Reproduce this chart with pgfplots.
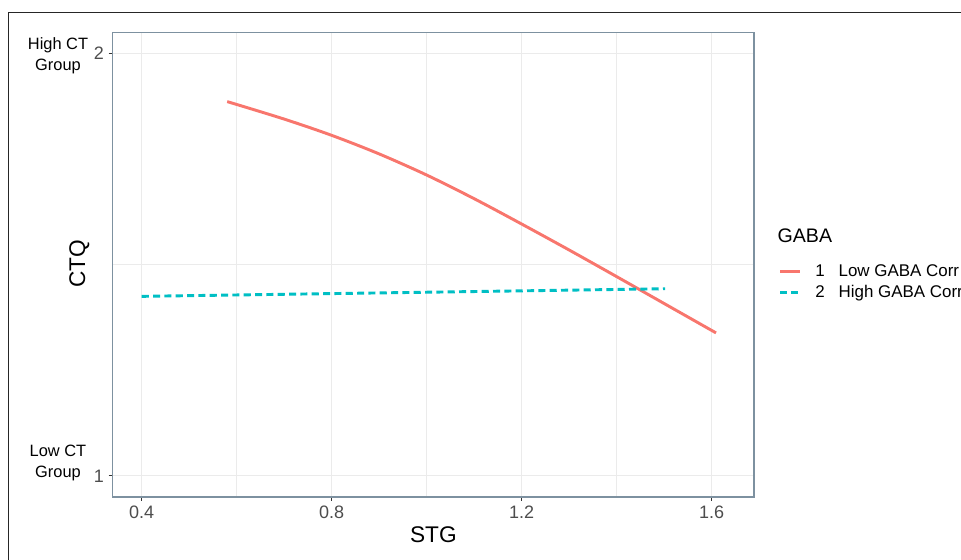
\documentclass[border=0pt]{standalone}
\usepackage{pgfplots}
\pgfplotsset{compat=1.18}
\usepackage{fontspec}
\setmainfont{Liberation Sans}
\definecolor{redc}{HTML}{F8766D}
\definecolor{tealc}{HTML}{00BFC4}
\definecolor{gridc}{HTML}{EBEBEB}
\definecolor{framec}{RGB}{125,145,160}
\definecolor{tickc}{HTML}{4D4D4D}
\begin{document}
\begin{tikzpicture}
\path[use as bounding box] (0,0) rectangle (720.75pt,420pt);
\draw[line width=0.9pt, black!85] (6.2pt,-1pt) -- (6.2pt,410.8pt) -- (722pt,410.8pt);
\begin{axis}[
 at={(84.375pt,47.25pt)}, anchor=south west,
 width=481.125pt, height=348.5pt, scale only axis,
 xmin=0.3385, xmax=1.689, ymin=0.95, ymax=2.05,
 xtick={0.4,0.8,1.2,1.6}, xticklabels={0.4,0.8,1.2,1.6},
 ytick={1,2}, yticklabels={1,2},
 minor xtick={0.6,1.0,1.4}, minor ytick={1.5},
 grid=both, grid style={gridc, line width=0.75pt}, minor grid style={gridc, line width=0.75pt},
 axis line style={framec, line width=0.9pt},
 tick align=outside, major tick length=3pt, minor tick length=0pt,
 major tick style={black!80, line width=0.75pt},
 xtick pos=bottom, ytick pos=left,
 ticklabel style={font=\fontsize{13.5}{16}\selectfont, text=tickc},
 /pgf/number format/assume math mode=true,
 legend style={at={(axis description cs:1.0379,0.462)}, anchor=west, draw=none, fill=none,
   inner sep=0pt, row sep=5pt, font=\fontsize{12.7}{15}\selectfont,
   nodes={inner sep=0pt}},
 legend cell align=left,
 legend image code/.code={\draw[#1] (0pt,0pt) -- (15pt,0pt);},
]
\addplot[redc, line width=2.2pt, smooth] coordinates {
(0.58,1.886) (0.7,1.8446) (0.8,1.8061) (0.9,1.7621) (1.0,1.7121) (1.1,1.6561)
(1.2,1.5961) (1.3,1.5346) (1.4,1.4716) (1.5,1.4079) (1.609,1.3385)};
\addlegendentry{\hspace{10.4pt}1\hspace{10.4pt}Low GABA Corr}
\addplot[tealc, line width=2.2pt, dash pattern=on 5.3pt off 3.2pt] coordinates {
(0.4,1.425) (0.8,1.4315) (1.2,1.438) (1.502,1.443)};
\addlegendentry{\hspace{10.4pt}2\hspace{10.4pt}High GABA Corr}
\end{axis}
\node[align=center, font=\fontsize{12.3}{15.75}\selectfont] at (43.5pt,378pt) {High CT\\Group};
\node[align=center, font=\fontsize{12.3}{15.75}\selectfont] at (43.5pt,72.75pt) {Low CT\\Group};
\node[rotate=90, font=\fontsize{17}{20}\selectfont, inner sep=0pt] at (59.6pt,222pt) {CTQ};
\node[font=\fontsize{17}{20}\selectfont, inner sep=0pt] at (325pt,18.75pt) {STG};
\node[anchor=west, font=\fontsize{14.7}{17}\selectfont, inner sep=0pt] at (583pt,243pt) {GABA};
\end{tikzpicture}
\end{document}
